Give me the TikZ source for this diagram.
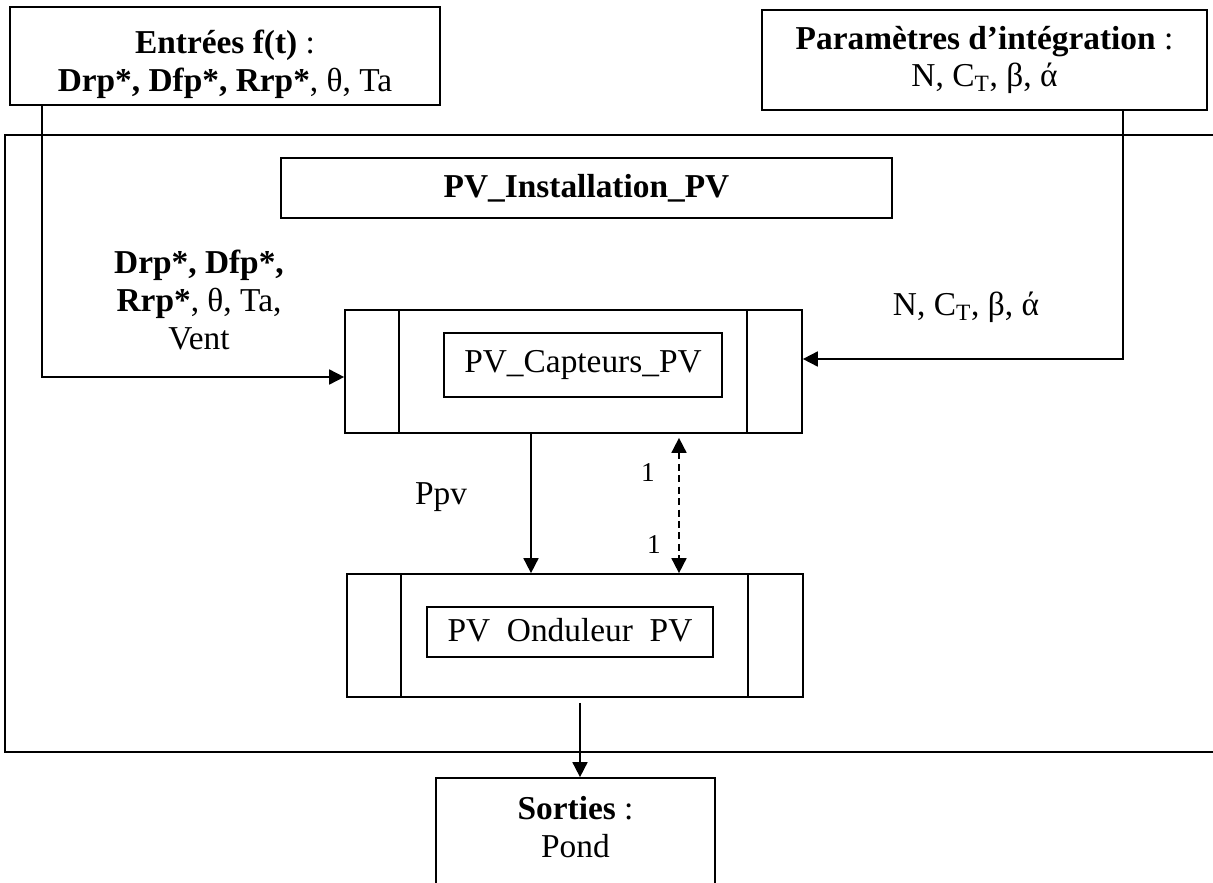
\documentclass[tikz,border=0pt]{standalone}
\usepackage{fontspec}
\setmainfont{Liberation Serif}
\usetikzlibrary{arrows.meta,positioning}

\tikzset{
  box/.style={draw, line width=1pt, inner sep=0pt, align=center},
  arr/.style={line width=1pt, -{Triangle[length=0.3cm,width=0.3cm]}},
  small/.style={font=\fontsize{15.5}{17}\selectfont}
}

\begin{document}
\begin{tikzpicture}[x=0.02cm, y=-0.02cm, line width=1pt, font=\fontsize{19}{21.5}\selectfont]
    \useasboundingbox (0,0) rectangle (1213,882);
    % cadre general
    \draw (1213,135) -- (5,135) -- (5,752) -- (1213,752);
    % boites
    \node[box, minimum width=8.6cm, minimum height=1.96cm] (ent) at (225,56) {};
    \node[align=center] (enttxt) at (225,64)
        {\textbf{Entrées f(t)} :\\ \textbf{Drp*, Dfp*, Rrp*}, θ, Ta};
    \node[box, minimum width=8.9cm, minimum height=2cm] (par) at (984.5,60)
        {\textbf{Paramètres d’intégration} :\\ N, C\textsubscript{T}, β, ά};
    \node[box, minimum width=12.22cm, minimum height=1.2cm] (inst) at (586.5,188)
        {\textbf{PV\_Installation\_PV}};
    \node[box, minimum width=9.14cm, minimum height=2.46cm] (capt) at (573.5,371.5) {};
    \node[box, minimum width=5.56cm, minimum height=1.28cm] (captin) at (583,365)
        {PV\_Capteurs\_PV};
    \node[box, minimum width=9.12cm, minimum height=2.46cm] (ond) at (575,635.5) {};
    \node[box, minimum width=5.72cm, minimum height=1cm] (ondin) at (570,632)
        {PV\phantom{\_}Onduleur\phantom{\_}PV};
    \node[box, minimum width=5.58cm, minimum height=2.2cm] (sor) at (575.5,833) {};
    \node[align=center] (sortxt) at (575.5,827) {\textbf{Sorties} :\\ Pond};
    \foreach \b in {capt,ond} {
        \draw ([xshift=1.1cm]\b.north west) -- ([xshift=1.1cm]\b.south west);
        \draw ([xshift=-1.12cm]\b.north east) -- ([xshift=-1.12cm]\b.south east);
    }
    % liaisons
    \coordinate (inL) at (42,377);
    \coordinate (inR) at (1123,359);
    \coordinate (ppv) at (531,0);
    \coordinate (dsh) at (679,0);
    \coordinate (out) at (580,0);
    \draw[arr] (ent.south -| inL) |- (capt.west |- inL);
    \draw[arr] (par.south -| inR) |- (capt.east |- inR);
    \draw[arr] (capt.south -| ppv) -- (ond.north -| ppv);
    \draw[arr, {Triangle[length=0.3cm,width=0.3cm]}-{Triangle[length=0.3cm,width=0.3cm]},
          dash pattern=on 4pt off 2.5pt, shorten <=0.08cm] (capt.south -| dsh) -- (ond.north -| dsh);
    \draw[arr, shorten <=0.1cm] (ond.south -| out) -- (sor.north -| out);
    % etiquettes
    \node[align=center] (lblL) at (199,300) {\textbf{Drp*, Dfp*,}\\ \textbf{Rrp*}, θ, Ta,\\ Vent};
    \node (lblR) at (966,307) {N, C\textsubscript{T}, β, ά};
    \node (lblP) at (441,497) {Ppv};
    \node[small] (un1) at (648,473) {1};
    \node[small] (un2) at (654,545) {1};
\end{tikzpicture}
\end{document}
